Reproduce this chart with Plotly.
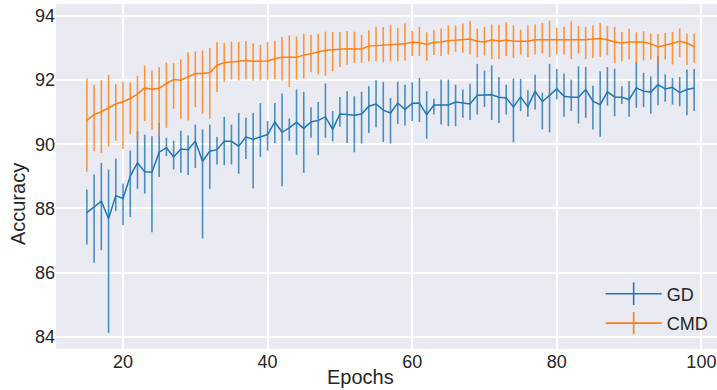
import plotly.graph_objects as go

epochs = list(range(15, 100))

gd_mean = [87.87, 88.05, 88.23, 87.69, 88.40, 88.31, 89.01, 89.42, 89.14, 89.13,
           89.75, 89.89, 89.60, 89.85, 89.83, 90.09, 89.47, 89.78, 89.83, 90.09,
           90.09, 89.94, 90.23, 90.15, 90.22, 90.30, 90.69, 90.37, 90.51, 90.68,
           90.49, 90.69, 90.74, 90.85, 90.46, 90.94, 90.92, 90.90, 90.94, 91.18,
           91.25, 91.06, 90.97, 91.28, 91.08, 91.27, 91.28, 90.92, 91.22, 91.23,
           91.22, 91.31, 91.28, 91.25, 91.52, 91.54, 91.54, 91.46, 91.44, 91.16,
           91.47, 91.16, 91.65, 91.32, 91.52, 91.72, 91.49, 91.46, 91.46, 91.70,
           91.34, 91.23, 91.63, 91.47, 91.46, 91.39, 91.75, 91.65, 91.62, 91.85,
           91.72, 91.77, 91.60, 91.70, 91.75]
gd_upper = [88.59, 89.06, 89.42, 89.21, 89.55, 88.78, 89.80, 90.40, 90.30, 90.25,
            90.66, 90.20, 90.11, 90.42, 90.27, 90.61, 90.46, 90.61, 90.22, 90.85,
            90.61, 90.97, 90.82, 90.97, 91.28, 90.72, 91.28, 91.58, 90.80, 91.70,
            91.63, 91.15, 91.31, 91.89, 91.03, 91.47, 91.65, 91.49, 91.63, 91.80,
            91.99, 91.94, 91.44, 91.94, 91.85, 91.93, 92.06, 91.65, 91.41, 92.01,
            92.01, 91.85, 91.70, 91.88, 92.50, 92.29, 92.45, 92.09, 91.85, 92.04,
            92.03, 91.68, 92.16, 91.60, 92.50, 92.34, 92.20, 92.01, 92.42, 92.40,
            91.82, 92.27, 92.40, 92.35, 91.80, 91.96, 92.55, 92.22, 92.11, 92.74,
            92.17, 92.06, 92.09, 92.32, 92.34]
gd_lower = [86.88, 86.31, 86.70, 84.13, 87.92, 87.48, 87.73, 88.61, 88.46, 87.26,
            88.98, 89.63, 89.21, 89.11, 89.04, 89.26, 87.07, 88.61, 89.37, 89.35,
            89.37, 89.08, 89.54, 88.63, 89.61, 89.80, 90.04, 88.69, 90.11, 89.67,
            89.11, 90.20, 89.66, 90.20, 90.09, 90.54, 90.04, 89.75, 90.02, 90.35,
            90.53, 90.07, 90.02, 90.63, 90.58, 90.72, 90.69, 90.17, 90.92, 90.61,
            90.56, 90.56, 90.82, 90.75, 90.92, 91.16, 90.75, 90.66, 90.92, 90.06,
            91.03, 90.85, 91.08, 90.46, 90.37, 91.39, 90.85, 91.03, 90.64, 90.82,
            90.46, 90.23, 91.20, 90.87, 91.25, 90.85, 91.13, 91.15, 90.95, 91.21,
            91.32, 91.23, 91.18, 90.90, 91.03]

cmd_mean = [90.74, 90.92, 91.01, 91.13, 91.25, 91.32, 91.42, 91.56, 91.75, 91.71,
            91.74, 91.89, 92.01, 91.99, 92.09, 92.20, 92.20, 92.22, 92.46, 92.53,
            92.56, 92.58, 92.60, 92.58, 92.58, 92.59, 92.66, 92.70, 92.70, 92.70,
            92.77, 92.81, 92.87, 92.92, 92.94, 92.97, 92.97, 92.96, 92.96, 93.05,
            93.06, 93.07, 93.09, 93.10, 93.12, 93.17, 93.16, 93.10, 93.17, 93.18,
            93.22, 93.23, 93.25, 93.27, 93.20, 93.18, 93.25, 93.20, 93.24, 93.20,
            93.20, 93.20, 93.25, 93.25, 93.25, 93.23, 93.23, 93.23, 93.25, 93.25,
            93.27, 93.29, 93.25, 93.18, 93.15, 93.18, 93.18, 93.18, 93.12, 93.03,
            93.08, 93.15, 93.20, 93.15, 93.03]
cmd_upper = [92.04, 91.85, 92.00, 92.16, 91.87, 91.94, 91.92, 92.13, 92.44, 92.29,
             92.39, 92.54, 92.52, 92.63, 92.86, 92.88, 92.91, 92.99, 93.17, 93.15,
             93.19, 93.18, 93.21, 93.13, 93.09, 93.18, 93.22, 93.33, 93.38, 93.35,
             93.43, 93.40, 93.43, 93.50, 93.49, 93.49, 93.52, 93.50, 93.40, 93.54,
             93.65, 93.64, 93.70, 93.62, 93.75, 93.53, 93.65, 93.48, 93.56, 93.60,
             93.69, 93.69, 93.75, 93.84, 93.60, 93.65, 93.72, 93.72, 93.79, 93.70,
             93.56, 93.69, 93.72, 93.77, 93.84, 93.62, 93.65, 93.82, 93.67, 93.65,
             93.70, 93.77, 93.67, 93.65, 93.49, 93.59, 93.48, 93.51, 93.44, 93.43,
             93.46, 93.49, 93.60, 93.44, 93.44]
cmd_lower = [89.14, 89.78, 89.72, 89.93, 90.11, 89.85, 90.31, 90.15, 90.72, 90.44,
             90.25, 90.51, 91.10, 90.79, 90.74, 91.15, 90.95, 90.79, 91.62, 91.94,
             92.01, 91.98, 92.01, 91.97, 91.98, 92.01, 92.03, 91.98, 91.78, 92.01,
             92.04, 92.24, 92.17, 92.13, 92.27, 92.40, 92.47, 92.53, 92.53, 92.57,
             92.58, 92.55, 92.58, 92.58, 92.60, 92.74, 92.74, 92.60, 92.77, 92.74,
             92.79, 92.87, 92.84, 92.79, 92.70, 92.76, 92.65, 92.65, 92.74, 92.68,
             92.79, 92.71, 92.79, 92.82, 92.71, 92.79, 92.79, 92.65, 92.82, 92.65,
             92.68, 92.71, 92.76, 92.53, 92.58, 92.63, 92.53, 92.61, 92.63, 92.48,
             92.63, 92.48, 92.71, 92.46, 92.53]

x_ticks = [20, 40, 60, 80, 100]
y_ticks = [84, 86, 88, 90, 92, 94]

BLUE = "#1f77b4"
ORANGE = "#ff7f0e"
BLUE_ERR = "rgba(31,119,180,0.8)"
ORANGE_ERR = "rgba(255,127,14,0.8)"
FONT = "Liberation Sans, Arial, sans-serif"
TXT = "#262626"

fig = go.Figure()

for name, mean, up, lo, col, ecol in [
    ("GD", gd_mean, gd_upper, gd_lower, BLUE, BLUE_ERR),
    ("CMD", cmd_mean, cmd_upper, cmd_lower, ORANGE, ORANGE_ERR),
]:
    fig.add_trace(go.Scatter(
        x=epochs, y=mean, mode="lines", name=name, showlegend=False,
        line=dict(color=col, width=1.5),
        error_y=dict(type="data", symmetric=False,
                     array=[u - m for u, m in zip(up, mean)],
                     arrayminus=[m - l for m, l in zip(mean, lo)],
                     color=ecol, thickness=1.6, width=0),
    ))

for name, col in [("GD", BLUE), ("CMD", ORANGE)]:
    fig.add_trace(go.Scatter(
        x=[None], y=[None], mode="lines+markers", name=name,
        legendgroup=name,
        line=dict(color=col, width=1.6),
        marker=dict(symbol="line-ns", size=20, color=col,
                    line=dict(color=col, width=1.6)),
    ))

fig.update_layout(
    width=717, height=390,
    margin=dict(l=56, r=0, t=4, b=41),
    paper_bgcolor="white",
    plot_bgcolor="#EAEAF2",
    font=dict(family=FONT, color=TXT, size=18),
    legend=dict(x=0.824, y=0.213, xanchor="left", yanchor="top",
                bgcolor="rgba(0,0,0,0)", font=dict(size=18, color=TXT),
                tracegroupgap=3, traceorder="grouped", itemwidth=56),
    xaxis=dict(range=[10.73, 102.16], tickvals=x_ticks,
               showgrid=True, gridcolor="white", gridwidth=1.5,
               zeroline=False, showline=False, ticks="",
               tickfont=dict(size=18, color=TXT)),
    yaxis=dict(range=[83.63, 94.36], tickvals=y_ticks,
               showgrid=True, gridcolor="white", gridwidth=1.5,
               zeroline=False, showline=False, ticks="",
               tickfont=dict(size=18, color=TXT)),
    annotations=[
        dict(text="Epochs", xref="paper", yref="paper", x=0.4614, y=-0.081,
             xanchor="center", yanchor="middle", showarrow=False,
             font=dict(size=20, color=TXT)),
        dict(text="Accuracy", xref="paper", yref="paper", x=-0.0575, y=0.42,
             xanchor="center", yanchor="middle", showarrow=False, textangle=-90,
             font=dict(size=20, color=TXT)),
    ],
)

fig.write_html("out.html")
